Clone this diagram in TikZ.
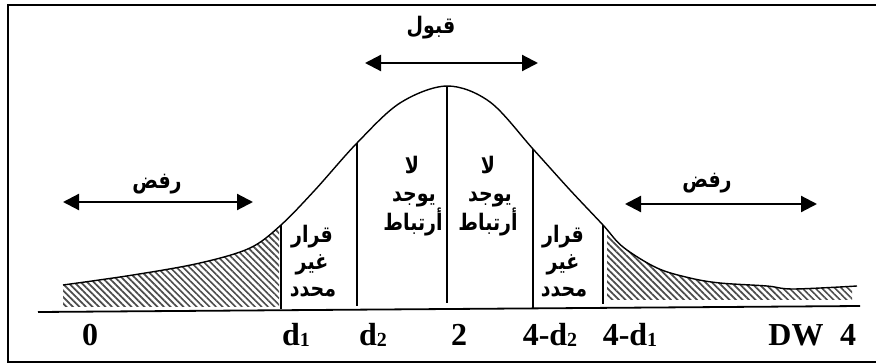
\documentclass[tikz,border=0pt]{standalone}
\usepackage{fontspec}
\usepackage{graphicx}
\usetikzlibrary{arrows.meta,patterns.meta}
\TeXXeTstate=1
\newfontfamily\arfont[Script=Arabic]{DejaVu Sans}
\newfontfamily\numfont{Liberation Serif}
\newcommand{\artx}[1]{\scalebox{1}[1.2]{\beginR #1\endR}}
\newcommand{\subsm}[1]{{\fontsize{20}{20}\selectfont\raisebox{-1pt}{#1}}}
\begin{document}
\begin{tikzpicture}[x=1pt,y=-1pt,
  frameline/.style={line width=2pt},
  curveline/.style={line width=1.4pt},
  divider/.style={line width=1.3pt},
  axisline/.style={line width=1.8pt},
  spanarrow/.style={line width=2.2pt,{Triangle[length=16pt,width=16pt]}-{Triangle[length=16pt,width=16pt]}},
  artext/.style={font=\arfont\bfseries\fontsize{19}{19}\selectfont,inner sep=0pt,anchor=base},
  axislabel/.style={font=\numfont\bfseries\fontsize{32}{32}\selectfont,inner sep=0pt,anchor=base},
  hatch/.style={pattern={Lines[angle=-45,distance=4.6pt,line width=1.7pt]},pattern color=black!70}]
\useasboundingbox (0,0) rectangle (876,364);
\clip (0,0) rectangle (876,364);

% outer frame (right side runs past the page)
\draw[frameline] (890,4.5) -- (8,4.5) -- (8,362) -- (890,362);

% hatched rejection tails
\begin{scope}
  \clip plot[smooth,tension=0.55] coordinates {
    (63,285) (133,275) (200,263) (250,248) (281,225) (315,190) (357,143)
    (400,103) (447,86) (490,102) (533,149) (570,190) (603,225) (623,247)
    (657,268) (690,278) (720,283) (767,286) (793,289) (857,286)}
    -- (857,400) -- (63,400) -- cycle;
  \fill[hatch] (63,150) rectangle (279,306);
  \fill[hatch] (607,150) rectangle (852,299);
\end{scope}

% density curve
\draw[curveline] plot[smooth,tension=0.55] coordinates {
    (63,285) (133,275) (200,263) (250,248) (281,225) (315,190) (357,143)
    (400,103) (447,86) (490,102) (533,149) (570,190) (603,225) (623,247)
    (657,268) (690,278) (720,283) (767,286) (793,289) (857,286)};

% horizontal axis
\coordinate (axL) at (38,312);
\coordinate (axR) at (860,306);
\draw[axisline] (axL) -- (axR);

% critical value dividers
\coordinate (d1t) at (281,225);  \coordinate (d1b) at (281,309);
\coordinate (d2t) at (357,143);  \coordinate (d2b) at (357,306);
\coordinate (ct)  at (447,86);   \coordinate (cb)  at (447,303);
\coordinate (e2t) at (533,149);  \coordinate (e2b) at (533,309);
\coordinate (e1t) at (603,225);  \coordinate (e1b) at (603,304);
\draw[divider] (d1t) -- (d1b);
\draw[divider] (d2t) -- (d2b);
\draw[divider] (ct) -- (cb);
\draw[divider] (e2t) -- (e2b);
\draw[divider] (e1t) -- (e1b);

% region arrows
\coordinate (rlA) at (63,202);  \coordinate (rlB) at (253,202);
\coordinate (acA) at (365,63);  \coordinate (acB) at (538,63);
\coordinate (rrA) at (625,204); \coordinate (rrB) at (817,204);
\draw[spanarrow] (rlA) -- (rlB);
\draw[spanarrow] (acA) -- (acB);
\draw[spanarrow] (rrA) -- (rrB);

% region names
\node[artext] (rejL) at (157,188) {\artx{رفض}};
\node[artext] (acc)  at (431,33)  {\artx{قبول}};
\node[artext] (rejR) at (707,187) {\artx{رفض}};

\node[artext] (ul1) at (312,242) {\artx{قرار}};
\node[artext] (ul2) at (312,269) {\artx{غير}};
\node[artext] (ul3) at (313,296) {\artx{محدد}};

\node[artext] (nl1) at (412,173) {\artx{لا}};
\node[artext] (nl2) at (414,201) {\artx{يوجد}};
\node[artext] (nl3) at (413,230) {\artx{أرتباط}};

\node[artext] (nr1) at (488,173) {\artx{لا}};
\node[artext] (nr2) at (490,201) {\artx{يوجد}};
\node[artext] (nr3) at (488,230) {\artx{أرتباط}};

\node[artext] (ur1) at (563,242) {\artx{قرار}};
\node[artext] (ur2) at (563,269) {\artx{غير}};
\node[artext] (ur3) at (564,296) {\artx{محدد}};

% axis values
\node[axislabel] (v0)  at (90,345)  {0};
\node[axislabel] (vd1) at (296,345) {d\subsm{1}};
\node[axislabel] (vd2) at (373,345) {d\subsm{2}};
\node[axislabel] (v2)  at (459,345) {2};
\node[axislabel] (ve2) at (550,345) {4-d\subsm{2}};
\node[axislabel] (ve1) at (630,345) {4-d\subsm{1}};
\node[axislabel] (vdw) at (796,345) {DW};
\node[axislabel] (v4)  at (848,345) {4};
\end{tikzpicture}
\end{document}
